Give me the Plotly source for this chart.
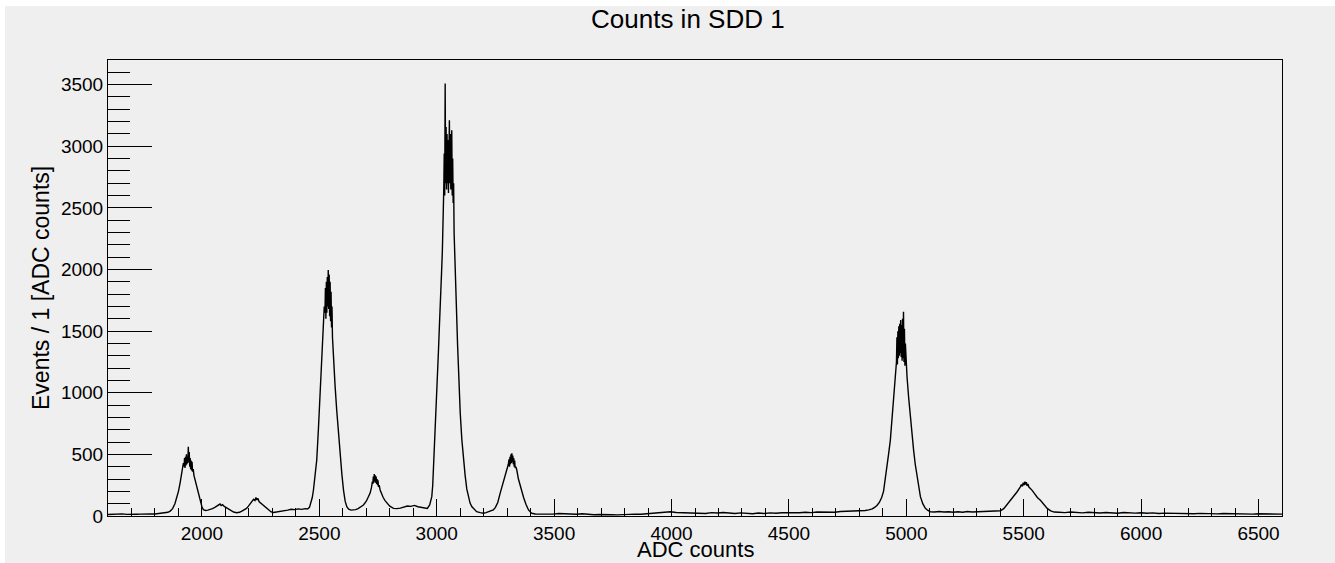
import plotly.graph_objects as go

# ---- data (ADC bin -> events) ----
adc_counts = [
    1600, 1620, 1640, 1660, 1680, 1700, 1720, 1740, 1760, 1780, 1800, 1820, 1840, 1855, 1865, 1875, 1885,
    1893, 1900, 1907, 1914, 1921,
    1924, 1926, 1928, 1930, 1932, 1934, 1936, 1938, 1940, 1942, 1944, 1946, 1948, 1950, 1952, 1954, 1956,
    1958, 1960, 1963, 1966, 1970, 1974, 1978, 1985, 1992, 2000, 2006, 2015, 2025, 2035, 2045, 2055, 2065,
    2072, 2077, 2082, 2088, 2095, 2105, 2115, 2125, 2135, 2148, 2160, 2170, 2180, 2190, 2198, 2206, 2214,
    2220, 2226, 2230, 2234, 2238, 2244, 2250, 2258, 2268, 2276, 2285, 2295, 2305, 2320, 2335, 2350, 2365,
    2380, 2395, 2410, 2425, 2440, 2450, 2458, 2465, 2470, 2475, 2482, 2489, 2496, 2503, 2510, 2517, 2521,
    2524, 2526, 2528, 2530, 2532, 2534, 2536, 2538, 2540, 2542, 2544, 2546, 2548, 2550, 2552, 2554, 2556,
    2560, 2567, 2574, 2581, 2589, 2596, 2603, 2610, 2617, 2625, 2635, 2645, 2655, 2665, 2675, 2688, 2700,
    2710, 2716, 2722, 2726, 2728, 2730, 2732, 2734, 2736, 2738, 2740, 2742, 2744, 2746, 2748, 2750, 2752,
    2755, 2759, 2765, 2772, 2780, 2788, 2800, 2816, 2830, 2845, 2860, 2875, 2890, 2905, 2920, 2935, 2950,
    2960, 2970, 2975, 2979, 2983, 2986, 2990, 2993, 2997, 3000, 3004, 3007, 3011, 3014, 3018, 3021, 3024,
    3026, 3028, 3030, 3032, 3034, 3036, 3038, 3040, 3042, 3044, 3046, 3048, 3050, 3052, 3054, 3056, 3058,
    3060, 3062, 3064, 3066, 3068, 3070, 3072, 3074, 3078, 3082, 3085, 3089, 3093, 3096, 3100, 3107, 3114,
    3121, 3128, 3135, 3142, 3150, 3160, 3170, 3185, 3199, 3210, 3220, 3230, 3241, 3250, 3260, 3270, 3280,
    3290, 3299, 3305, 3308, 3310, 3312, 3314, 3316, 3318, 3320, 3322, 3324, 3326, 3328, 3330, 3332, 3334,
    3337, 3341, 3348, 3355, 3362, 3370, 3380, 3391, 3400, 3405,
    3420, 3445, 3470, 3495, 3520, 3545, 3570, 3595, 3620, 3645, 3670, 3695, 3720, 3745, 3770, 3795, 3820,
    3845, 3870, 3895, 3920, 3945, 3970, 3995, 4020, 4045, 4070, 4095, 4120, 4145, 4170, 4195, 4220, 4245,
    4270, 4295, 4320, 4345, 4370, 4395, 4420, 4445, 4470, 4495, 4520, 4545, 4570, 4595, 4620, 4645, 4670,
    4695, 4720, 4745, 4770, 4795, 4810, 4825, 4840, 4855, 4865, 4875, 4885, 4895, 4903, 4910, 4917, 4925,
    4932, 4939, 4946, 4952,
    4958, 4960, 4962, 4964, 4966, 4968, 4970, 4972, 4974, 4976, 4978, 4980, 4982, 4984, 4986, 4988, 4990,
    4992, 4994, 4996, 4999, 5003, 5010, 5017, 5024, 5031, 5038, 5046, 5053, 5060, 5070, 5081, 5092, 5102,
    5120, 5140, 5160, 5180, 5200, 5220, 5240, 5260, 5280, 5300, 5320, 5340, 5360, 5380, 5401, 5415, 5430,
    5443, 5458, 5472, 5485, 5490, 5494, 5498, 5502, 5505, 5508, 5511, 5514, 5518, 5522, 5528, 5535, 5543,
    5550, 5558, 5572, 5585, 5600, 5615, 5630, 5650, 5675, 5700, 5725, 5750, 5775, 5800, 5825, 5850, 5875,
    5900, 5925, 5950, 5975, 6000, 6025, 6050, 6075, 6100, 6125, 6150, 6175, 6200, 6225, 6250, 6275, 6300,
    6325, 6350, 6375, 6400, 6425, 6450, 6475, 6500, 6525, 6550, 6575, 6600,
]

events = [
    12, 15, 14, 17, 13, 16, 14, 15, 13, 17, 16, 20, 24, 30, 40, 60, 100,
    146, 200, 267, 350, 430,
    400, 470, 390, 480, 410, 500, 420, 470, 430, 562, 440, 520, 400, 470, 380, 450, 370,
    440, 360, 380, 330, 300, 270, 238, 170, 116, 75, 52, 45, 48, 52, 60, 70, 80,
    90, 97, 85, 92, 78, 65, 52, 42, 32, 27, 30, 40, 52, 62, 80, 100, 120,
    135, 125, 150, 130, 143, 115, 105, 90, 72, 60, 45, 33, 28, 32, 38, 44, 48,
    55, 52, 58, 54, 60, 57, 70, 110, 150, 211, 320, 454, 700, 995, 1270, 1535, 1700,
    1650, 1850, 1600, 1900, 1650, 1940, 1700, 1995, 1680, 1960, 1620, 1900, 1580, 1820, 1530, 1700, 1450,
    1265, 1060, 860, 680, 500, 340, 210, 120, 75, 55, 48, 49, 52, 60, 70, 89, 120,
    160, 184, 230, 280, 260, 320, 270, 340, 280, 330, 270, 320, 260, 300, 250, 290, 235,
    250, 211, 180, 150, 125, 103, 80, 62, 60, 64, 72, 81, 78, 86, 75, 70, 64,
    62, 90, 120, 157, 250, 373, 510, 643, 780, 914, 1120, 1320, 1520, 1725, 1850, 1995, 2150,
    2265, 2450, 2650, 2941, 2600, 3509, 2700, 3157, 2650, 3100, 2700, 3050, 2620, 3180, 3212, 2700, 3100,
    2650, 3000, 3130, 2600, 2900, 2540, 2700, 2300, 1995, 1780, 1590, 1380, 1184, 1000, 840, 620, 460,
    330, 220, 150, 105, 75, 50, 35, 27, 22, 28, 33, 40, 49, 70, 110, 184, 250,
    310, 373, 420, 460, 400, 480, 420, 500, 430, 508, 440, 490, 420, 470, 400, 450, 390,
    400, 373, 300, 250, 211, 150, 95, 49, 30, 22,
    16, 14, 18, 15, 20, 17, 19, 14, 18, 12, 10, 12, 8, 10, 9, 12, 11,
    15, 14, 18, 20, 24, 30, 35, 28, 26, 30, 22, 25, 20, 27, 24, 28, 22,
    20, 25, 22, 18, 24, 20, 25, 22, 26, 24, 28, 26, 30, 27, 32, 30, 34,
    31, 36, 38, 40, 42, 40, 45, 50, 58, 70, 85, 110, 150, 200, 290, 400, 510,
    616, 780, 941, 1080,
    1250, 1450, 1230, 1500, 1280, 1540, 1300, 1560, 1320, 1590, 1290, 1550, 1260, 1600, 1280, 1657, 1250,
    1520, 1220, 1400, 1200, 1130, 960, 805, 660, 535, 420, 319, 230, 157, 100, 62, 45, 35,
    33, 36, 32, 35, 30, 34, 31, 36, 33, 35, 31, 34, 37, 38, 42, 60, 95,
    130, 165, 197, 235, 255, 240, 270, 250, 278, 255, 275, 245, 260, 235, 225, 210, 190,
    170, 150, 125, 95, 62, 42, 32, 30, 27, 32, 28, 25, 30, 27, 24, 28, 26,
    22, 28, 25, 23, 26, 22, 25, 20, 23, 21, 19, 22, 20, 18, 21, 19, 20,
    17, 20, 18, 16, 19, 17, 15, 18, 16, 14, 17, 15,
]

x_ticks = [2000, 2500, 3000, 3500, 4000, 4500, 5000, 5500, 6000, 6500]
y_ticks = [0, 500, 1000, 1500, 2000, 2500, 3000, 3500]

title_text = "Counts in SDD 1"
x_title = "ADC counts"
y_title = "Events / 1 [ADC counts]"

BG = "#efefef"
FONT = "Liberation Sans, Arial, Helvetica, sans-serif"

fig = go.Figure()
fig.add_trace(go.Scatter(
    x=adc_counts, y=events, mode="lines",
    line=dict(color="black", width=1.4, shape="linear"),
    showlegend=False, hoverinfo="x+y",
))

# plot-area geometry in pixels (for placing the canvas frame / labels)
W, H = 1335, 563
L, R, T, B = 108, 53, 60, 47
pw, ph = W - L - R, H - T - B


def px_x(p):
    return (p - L) / pw


def px_y(p):
    return (H - B - p) / ph


fig.update_layout(
    width=W, height=H,
    margin=dict(l=L, r=R, t=T, b=B, pad=0),
    paper_bgcolor="white",
    plot_bgcolor=BG,
    font=dict(family=FONT, size=19, color="black"),
    shapes=[dict(type="rect", xref="paper", yref="paper",
                 x0=px_x(5), x1=px_x(1336), y0=px_y(563), y1=px_y(6),
                 fillcolor=BG, line=dict(width=0), layer="below")],
    annotations=[
        dict(text=title_text, xref="paper", yref="paper", x=px_x(688), y=px_y(19),
             xanchor="center", yanchor="middle", showarrow=False, font=dict(size=26)),
        dict(text=x_title, xref="paper", yref="paper", x=px_x(695), y=px_y(549),
             xanchor="center", yanchor="middle", showarrow=False, font=dict(size=22)),
        dict(text=y_title, xref="paper", yref="paper", x=px_x(41), y=px_y(288),
             xanchor="center", yanchor="middle", showarrow=False, textangle=-90,
             font=dict(size=23)),
    ],
)

fig.update_xaxes(
    range=[1600, 6600], tickvals=x_ticks, ticktext=[str(v) for v in x_ticks],
    ticks="inside", ticklen=17, tickwidth=1, tickcolor="black",
    minor=dict(dtick=100, tick0=0, ticks="inside", ticklen=8, tickwidth=1, tickcolor="black"),
    showgrid=False, zeroline=False, showline=True, linecolor="black", linewidth=1, mirror=True,
    tickfont=dict(size=19),
)
fig.update_yaxes(
    range=[0, 3700], tickvals=y_ticks, ticktext=[str(v) for v in y_ticks],
    ticks="inside", ticklen=44, tickwidth=1, tickcolor="black",
    minor=dict(dtick=100, tick0=0, ticks="inside", ticklen=22, tickwidth=1, tickcolor="black"),
    showgrid=False, zeroline=False, showline=True, linecolor="black", linewidth=1, mirror=True,
    tickfont=dict(size=19),
)

fig.write_html("out.html")
